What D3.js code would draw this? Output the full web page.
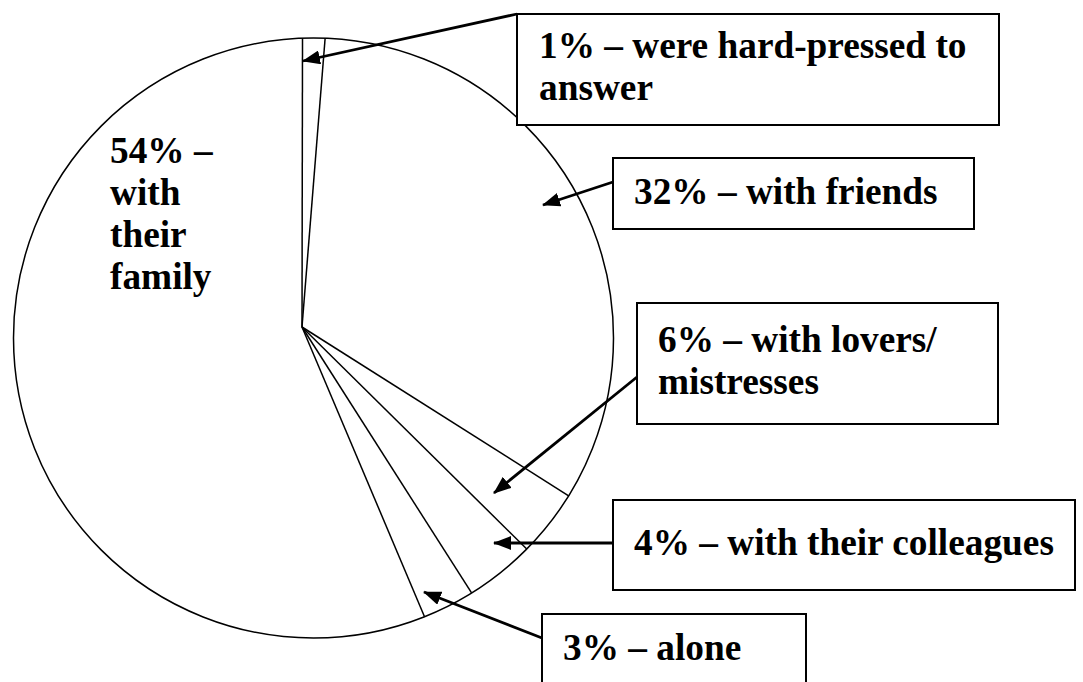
<!DOCTYPE html>
<html>
<head>
<meta charset="utf-8">
<script src="https://cdn.jsdelivr.net/npm/d3@7"></script>
<style>
  body { margin: 0; background: #fff; }
  svg { display: block; }
  text { font-family: 'Liberation Serif', Tinos, 'Times New Roman', Times, 'DejaVu Serif', serif; font-weight: 700; font-size: 37.3px; fill: #000; }
</style>
</head>
<body>
<svg width="1083" height="682"></svg>
<script>
// categories, clockwise from 12 o'clock
const categories = ["were hard-pressed to answer", "with friends", "with lovers/ mistresses",
                    "with their colleagues", "alone", "with their family"];
// printed percentages
const percents = [1, 32, 6, 4, 3, 54];
// slice widths as drawn in the sketch (it is not to scale), in %
const drawnShares = [1.2, 33.2, 3.6, 3.75, 2.8, 55.45];

// annotation layout: box [x0, y0, x1, y1], text x / first baseline, wrap width, arrow from -> to
const layout = [
  { box: [517, 14, 999, 125], tx: 539, ty: 58, wrap: 450, from: [517, 14], to: [303, 61] },
  { box: [613, 158, 974, 229], tx: 634, ty: 204, wrap: 400, from: [613, 182], to: [543, 205] },
  { box: [637, 303, 998, 424], tx: 658, ty: 352, wrap: 330, from: [637, 377], to: [494, 493] },
  { box: [613, 500, 1075, 590], tx: 634, ty: 555, wrap: 450, from: [613, 543], to: [494, 543] },
  { box: [542, 614, 806, 700], tx: 563, ty: 660, wrap: 240, from: [542, 638], to: [424, 592] },
  { box: null, tx: 110, ty: 163, wrap: 130 }
];

const lineGap = 42;
const cx = 313.5, cy = 338, r = 300;   // outline circle
const apex = [302, 327];              // where the slice lines meet
const startAngle = -2.1 * Math.PI / 180;

const svg = d3.select("svg");

const pie = d3.pie().sort(null).value(d => d)
  .startAngle(startAngle).endAngle(startAngle + 2 * Math.PI);
const slices = pie(drawnShares);

// outline
svg.append("circle")
  .attr("cx", cx).attr("cy", cy).attr("r", r)
  .attr("fill", "#fff").attr("stroke", "#000").attr("stroke-width", 1.5);

// slice boundaries
const line = d3.line();
svg.selectAll(".edge")
  .data(slices)
  .enter()
  .append("path")
  .classed("edge", true)
  .attr("d", d => {
    const p = d3.pointRadial(d.startAngle, r);
    return line([apex, [cx + p[0], cy + p[1]]]);
  })
  .attr("fill", "none").attr("stroke", "#000").attr("stroke-width", 1.5);

// arrowhead
svg.append("defs").append("marker")
  .attr("id", "head")
  .attr("markerUnits", "userSpaceOnUse")
  .attr("viewBox", "0 0 18 14")
  .attr("markerWidth", 18).attr("markerHeight", 14)
  .attr("refX", 17).attr("refY", 7)
  .attr("orient", "auto")
  .append("path")
  .attr("d", "M0,0 L18,7 L0,14 Z")
  .attr("fill", "#000");

const labels = categories.map((c, i) => ({ text: `${percents[i]}% – ${c}`, ...layout[i] }));

const g = svg.selectAll(".label")
  .data(labels)
  .enter()
  .append("g")
  .classed("label", true);

g.filter(d => d.from)
  .append("path")
  .attr("d", d => line([d.from, d.to]))
  .attr("stroke", "#000").attr("stroke-width", 2.8).attr("fill", "none")
  .attr("marker-end", "url(#head)");

g.filter(d => d.box)
  .append("rect")
  .attr("x", d => d.box[0]).attr("y", d => d.box[1])
  .attr("width", d => d.box[2] - d.box[0]).attr("height", d => d.box[3] - d.box[1])
  .attr("fill", "#fff").attr("stroke", "#000").attr("stroke-width", 2);

// wrap text to the given width
g.each(function (d) {
  const t = d3.select(this).append("text").attr("x", d.tx).attr("y", d.ty);
  const words = d.text.split(/\s+/);
  let lineNo = 0;
  let tspan = t.append("tspan").attr("x", d.tx).attr("y", d.ty);
  let cur = [];
  words.forEach(w => {
    cur.push(w);
    tspan.text(cur.join(" "));
    if (tspan.node().getComputedTextLength() > d.wrap && cur.length > 1) {
      cur.pop();
      tspan.text(cur.join(" "));
      cur = [w];
      lineNo++;
      tspan = t.append("tspan").attr("x", d.tx).attr("y", d.ty + lineNo * lineGap).text(w);
    }
  });
});
</script>
</body>
</html>
